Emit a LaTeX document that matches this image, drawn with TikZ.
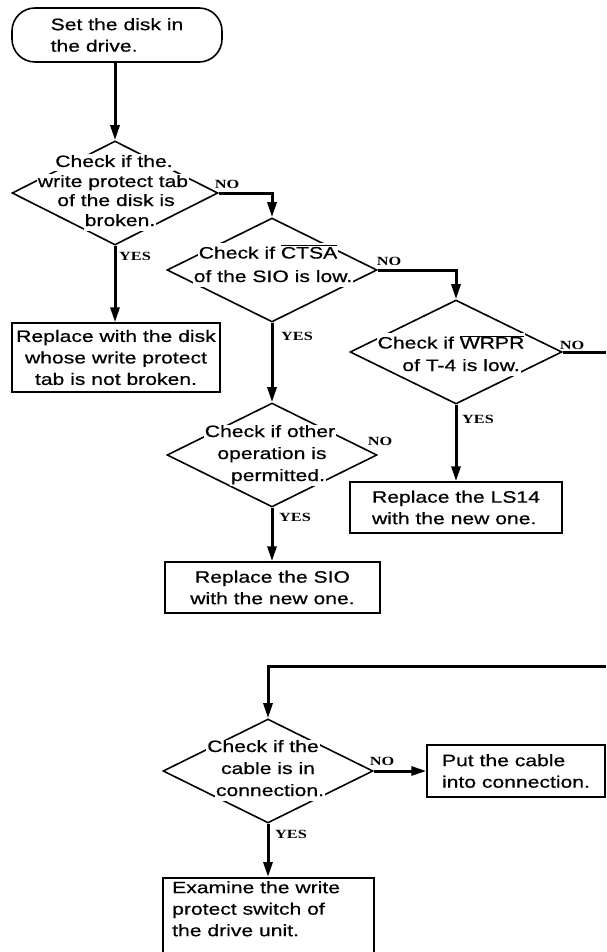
\documentclass[tikz,border=0pt]{standalone}
\usepackage{fontspec}
\setmainfont[FakeStretch=1.28,FakeBold=0.6]{Liberation Sans}
\newfontfamily\labelfont[FakeStretch=1.3]{Liberation Serif Bold}
\usetikzlibrary{shapes.geometric,arrows.meta}

\tikzset{
  body/.style={font=\fontsize{16.5}{21.5}\selectfont},
  decision/.style={diamond, draw, line width=1.6pt, minimum width=210pt,
    minimum height=104pt, inner sep=0pt},
  dline/.style={body, fill=white, inner sep=1pt, text height=11.5pt, text depth=3.5pt},
  oline/.style={dline, text height=14.5pt},
  actbox/.style={body, draw, line width=1.5pt, inner sep=0pt},
  terminal/.style={body, draw, line width=1.6pt, rounded corners=23pt, inner sep=0pt},
  flow/.style={line width=3pt, -{Triangle[length=15pt,width=9pt]}},
  bare/.style={line width=3pt},
  yn/.style={font=\labelfont\fontsize{12.5}{14}\selectfont, inner sep=0pt},
}

\begin{document}
\begin{tikzpicture}[x=1pt, y=-1pt]
\useasboundingbox (0,0) rectangle (606,952);

% start
\node[terminal, minimum width=210pt, minimum height=54pt, align=left] (start) at (117,35)
  {Set the disk in\\the drive.};

% decisions
\node[decision, minimum width=206pt] (d1) at (115,193) {};
\node[decision] (d2) at (272,270) {};
\node[decision, minimum width=212pt] (d3) at (456,352) {};
\node[decision] (d4) at (272,455) {};
\node[decision] (d5) at (268,771) {};

% decision texts, one line per node so that the outline breaks around them
\node[dline] (d1a) at (114,163) {Check if the.};
\node[dline] (d1b) at (113,183) {write protect tab};
\node[dline] (d1c) at (116,202) {of the disk is};
\node[dline] (d1d) at (120,222) {broken.};

\node[oline] (d2a) at (268,253) {Check if $\overline{\mbox{CTSA}}$};
\node[dline] (d2b) at (273,278) {of the SIO is low.};

\node[oline] (d3a) at (451,343) {Check if $\overline{\mbox{WRPR}}$};
\node[dline] (d3b) at (461,367) {of T-4 is low.};

\node[dline] (d4a) at (270,433) {Check if other};
\node[dline] (d4b) at (272,455) {operation is};
\node[dline] (d4c) at (278,477) {permitted.};

\node[dline] (d5a) at (263,748) {Check if the};
\node[dline] (d5b) at (268,770) {cable is in};
\node[dline] (d5c) at (270,792) {connection.};

% actions
\node[actbox, minimum width=208pt, minimum height=69pt, align=center] (b1) at (116,357.5)
  {Replace with the disk\\whose write protect\\tab is not broken.};
\node[actbox, minimum width=212pt, minimum height=51pt, align=left] (b3) at (456,507.5)
  {Replace the LS14\\with the new one.};
\node[actbox, minimum width=215pt, minimum height=51pt, align=center] (b2) at (272.5,587.5)
  {Replace the SIO\\with the new one.};
\node[actbox, minimum width=178pt, minimum height=52pt, align=left] (b4) at (516,771)
  {Put the cable\\into connection.};
\node[actbox, minimum width=211pt, minimum height=95pt, anchor=north] (b5) at (268.5,877) {};
\node[body, align=left, anchor=north west, inner sep=0pt] (b5t) at (172,881)
  {Examine the write\\protect switch of\\the drive unit.};

% loose ends at the right margin
\coordinate (e3) at (606,352);
\coordinate (e5) at (606,666);

% connectors
\draw[flow] (d1.north |- start.south) -- (d1.north);
\draw[flow] (d1.east) -| (d2.north);
\draw[flow] (d1.south) -- (d1.south |- b1.north);
\draw[flow] (d2.east) -| (d3.north);
\draw[flow] (d2.south) -- (d4.north);
\draw[bare] (d3.east) -- (e3);
\draw[flow] (d3.south) -- (d3.south |- b3.north);
\draw[flow] (d4.south) -- (d4.south |- b2.north);
\draw[flow] (e5) -| (d5.north);
\draw[flow] (d5.east) -- (d5.east -| b4.west);
\draw[flow] (d5.south) -- (d5.south |- b5.north);

% branch labels
\node[yn] (n1) at (227,184) {NO};
\node[yn] (y1) at (135,256) {YES};
\node[yn] (n2) at (389,261) {NO};
\node[yn] (y2) at (297,336) {YES};
\node[yn] (n3) at (572,345) {NO};
\node[yn] (y3) at (478,419) {YES};
\node[yn] (n4) at (380,441) {NO};
\node[yn] (y4) at (295,517) {YES};
\node[yn] (n5) at (382,761) {NO};
\node[yn] (y5) at (291,834) {YES};
\end{tikzpicture}
\end{document}
